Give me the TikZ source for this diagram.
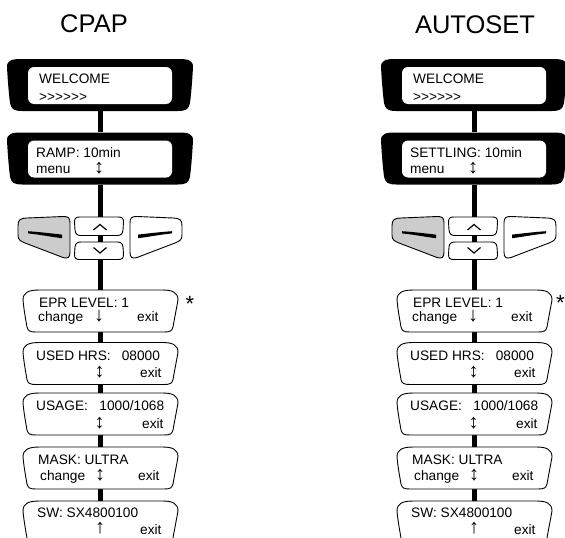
\documentclass[tikz,border=0pt]{standalone}
\usepackage{fontspec}
\setmainfont{Liberation Sans}
\usetikzlibrary{calc}
\definecolor{btngray}{RGB}{204,204,204}
\tikzset{
  lcdbox/.style={minimum width=186pt,minimum height=52pt,inner sep=0pt,draw=none},
  menubox/.style={minimum width=155pt,minimum height=42pt,inner sep=0pt,draw=none},
  conn/.style={line width=5pt,black},
  menuline/.style={draw=black,fill=white,line width=0.9pt,line join=round},
  btn/.style={draw=black,line width=0.9pt,line join=round},
  chev/.style={line width=1.2pt,line join=miter},
  txt/.style={anchor=base west,inner sep=0pt,font=\fontsize{13.7}{16}\selectfont},
  arr/.style={anchor=base,inner sep=0pt,font=\fontsize{20}{22}\selectfont},
  titletxt/.style={anchor=base,inner sep=0pt,font=\fontsize{25.5}{30}\selectfont},
  asttxt/.style={anchor=base,inner sep=0pt,font=\fontsize{22}{24}\selectfont},
}
\newcommand{\lcdframe}[1]{%
  \fill[shift={(#1.center)}] (-93,-18) .. controls (-93,-25) and (-88,-26) .. (-78,-26) -- (78,-26) .. controls (88,-26) and (93,-25) .. (93,-18) .. controls (92,0) and (91,10) .. (90,18) .. controls (89,24) and (86,26) .. (78,26) -- (-78,26) .. controls (-86,26) and (-89,24) .. (-90,18) .. controls (-91,10) and (-92,0) .. (-93,-18) -- cycle;
  \fill[white,rounded corners=6pt,shift={(#1.center)}] (-72,-18) rectangle (72,19);
}
\newcommand{\menuframe}[1]{%
  \draw[menuline,shift={(#1.center)}] (-77,-11) .. controls (-77,-19) and (-71,-21) .. (-60,-21) -- (62,-21) .. controls (72,-21) and (78,-19) .. (78,-11) .. controls (76,0) and (74,10) .. (73,16) .. controls (72,20) and (70,21) .. (64,21) -- (-64,21) .. controls (-70,21) and (-72,20) .. (-73,16) .. controls (-74,10) and (-76,0) .. (-77,-11) -- cycle;
}
\newcommand{\sidebutton}[1]{%
  \filldraw[btn,fill=#1] (18,226) .. controls (18,219.5) and (20,218.5) .. (27,218) -- (63,216.5) .. controls (68.5,216.3) and (70,218) .. (70,223) -- (70,252) .. controls (70,257.5) and (68,259) .. (63,257.5) -- (25,243) .. controls (20,241) and (18,239.5) .. (18,235) -- cycle;
  \fill (28,231.2) .. controls (40,232) and (52,233.5) .. (62,234.6) -- (62,238.2) .. controls (52,237) and (40,234.6) .. (28,233.4) -- cycle;
}
\newcommand{\buildcolumn}[8]{%
  \node[titletxt] (#1title) at (#4,#5) {#3};
  \begin{scope}[shift={(#2,0)}]
    \node[lcdbox] (#1wel) at (100,85) {};
    \node[lcdbox] (#1ramp) at (100,158.5) {};
    \node[menubox] (#1epr) at (100,311) {};
    \node[menubox] (#1used) at (100,363.5) {};
    \node[menubox] (#1usage) at (100,414) {};
    \node[menubox] (#1mask) at (100,468) {};
    \node[menubox] (#1sw) at (100,522) {};
  \end{scope}
  \draw[conn] (#1wel.south) -- (#1ramp.north);
  \draw[conn] (#1ramp.south) -- (#1epr.north);
  \draw[conn] (#1epr.south) -- (#1used.north);
  \draw[conn] (#1used.south) -- (#1usage.north);
  \draw[conn] (#1usage.south) -- (#1mask.north);
  \draw[conn] (#1mask.south) -- (#1sw.north);
  \lcdframe{#1wel}
  \lcdframe{#1ramp}
  \menuframe{#1epr}
  \menuframe{#1used}
  \menuframe{#1usage}
  \menuframe{#1mask}
  \menuframe{#1sw}
  \begin{scope}[shift={(#2,0)}]
    \sidebutton{btngray}
    \begin{scope}[shift={(200,0)},xscale=-1]
      \sidebutton{white}
    \end{scope}
    \filldraw[btn,fill=white] (74.5,222) .. controls (74.5,218) and (76,217) .. (80,217) -- (118,217) .. controls (122,217) and (123.5,218) .. (123.5,222) -- (123,230) .. controls (122.5,234) and (121,235.5) .. (117,235.5) -- (81,235.5) .. controls (77,235.5) and (75.5,234) .. (75,230) -- cycle;
    \filldraw[btn,fill=white] (75,247) .. controls (75.5,243.5) and (77,242) .. (81,242) -- (117,242) .. controls (121,242) and (122.5,243.5) .. (123,247) -- (123.5,254.5) .. controls (123.5,258.5) and (122,259.5) .. (118,259.5) -- (80,259.5) .. controls (76,259.5) and (74.5,258.5) .. (74.5,254.5) -- cycle;
    \draw[chev] (93.5,230) -- (100,224.5) -- (106.5,230);
    \draw[chev] (93.5,247.5) -- (100,253) -- (106.5,247.5);
    \node[txt] (#1welA) at (39,83.5) {WELCOME};
    \node[txt] (#1welB) at (39,101) {>\kern0pt>\kern0pt>\kern0pt>\kern0pt>\kern0pt>};
    \node[txt] (#1rampA) at (36,157) {#6};
    \node[txt] (#1rampB) at (36,173) {menu};
    \node[arr] (#1rampC) at (99,173) {↕};
    \node[txt] (#1eprA) at (39,307) {EPR LEVEL: 1};
    \node[txt] (#1eprB) at (38,321.5) {change};
    \node[arr] (#1eprC) at (99,321.5) {↓};
    \node[txt] (#1eprD) at (137,321.5) {exit};
    \node[txt] (#1usedA) at (36,360) {USED HRS:\hspace{11pt}08000};
    \node[arr] (#1usedC) at (99.5,377) {↕};
    \node[txt] (#1usedD) at (140,377) {exit};
    \node[txt] (#1usageA) at (36,410) {USAGE:\hspace{11.5pt}1000/1068};
    \node[arr] (#1usageC) at (99.5,428) {↕};
    \node[txt] (#1usageD) at (142,428) {exit};
    \node[txt] (#1maskA) at (38,464) {MASK: ULTRA};
    \node[txt] (#1maskB) at (40,480) {change};
    \node[arr] (#1maskC) at (100,480) {↕};
    \node[txt] (#1maskD) at (138,480) {exit};
    \node[txt] (#1swA) at (37,517) {SW: SX4800100};
    \node[arr] (#1swC) at (100,533) {↑};
    \node[txt] (#1swD) at (140,534) {exit};
  \end{scope}
  \node[asttxt] (#1ast) at (#7,#8) {*};
}
\begin{document}
\begin{tikzpicture}[x=1pt,y=-1pt]
\useasboundingbox (0,0) rectangle (565,538);
\clip (0,0) rectangle (565,538);
\fill[white] (0,0) rectangle (565,538);
\buildcolumn{L}{0}{CPAP}{94}{32}{RAMP: 10min}{190}{311}
\buildcolumn{R}{374}{AUTOSET}{475}{33.5}{SETTLING: 10min}{560.5}{310}
\end{tikzpicture}
\end{document}
